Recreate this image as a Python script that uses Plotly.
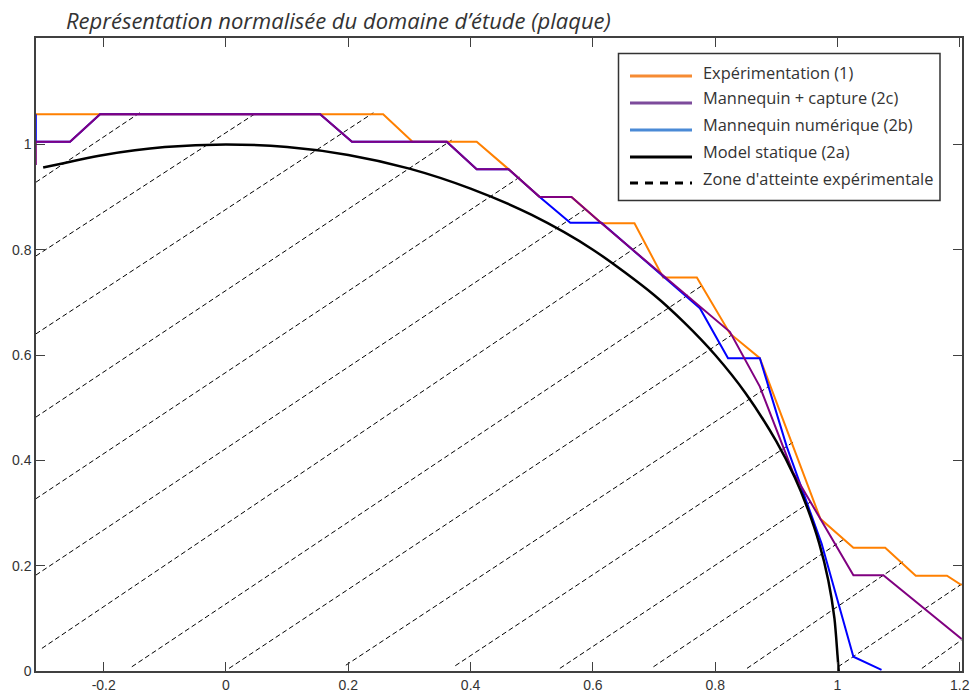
import plotly.graph_objects as go

# ---------------- data ----------------
# Expérimentation (1)
exp_x = [-0.311, 0.257, 0.305, 0.410, 0.462, 0.513, 0.565, 0.614, 0.668, 0.715,
         0.770, 0.824, 0.873, 0.972, 1.026, 1.078, 1.128, 1.179, 1.203]
exp_y = [1.057, 1.057, 1.005, 1.005, 0.953, 0.900, 0.900, 0.850, 0.850, 0.747,
         0.747, 0.641, 0.594, 0.289, 0.234, 0.234, 0.181, 0.181, 0.163]

# Mannequin + capture (2c)
cap_x = [-0.311, -0.311, -0.255, -0.206, 0.154, 0.206, 0.361, 0.410, 0.462, 0.513,
         0.565, 0.614, 0.824, 0.873, 0.927, 1.026, 1.075, 1.203]
cap_y = [0.961, 1.005, 1.005, 1.057, 1.057, 1.005, 1.005, 0.953, 0.953, 0.900,
         0.900, 0.850, 0.644, 0.540, 0.378, 0.182, 0.182, 0.061]

# Mannequin numérique (2b)
num_x = [-0.311, -0.311, -0.255, -0.206, 0.154, 0.206, 0.361, 0.410, 0.462, 0.513,
         0.563, 0.614, 0.775, 0.821, 0.873, 0.917, 0.974, 1.026, 1.072]
num_y = [1.057, 1.005, 1.005, 1.057, 1.057, 1.005, 1.005, 0.953, 0.953, 0.900,
         0.851, 0.851, 0.689, 0.594, 0.594, 0.426, 0.242, 0.027, 0.002]

# Model statique (2a)
stat_x = [-0.299, -0.2, -0.1, 0.0, 0.1, 0.2, 0.3, 0.4, 0.5, 0.6, 0.7, 0.75, 0.8,
          0.85, 0.9, 0.93, 0.95, 0.97, 0.985, 0.995, 1.0, 1.002]
stat_y = [0.956, 0.980, 0.995, 1.0, 0.995, 0.980, 0.954, 0.916, 0.866, 0.800, 0.714,
          0.661, 0.600, 0.527, 0.436, 0.368, 0.312, 0.243, 0.172, 0.100, 0.030, 0.0]

# Zone d'atteinte expérimentale (hatch segments: start -> end)
hatch_x0 = [-0.311, -0.311, -0.311, -0.311, -0.311, -0.311, -0.301, -0.154,
            0.005, 0.196, 0.375, 0.546, 0.699, 0.852, 1.001, 1.138]
hatch_y0 = [0.928, 0.788, 0.640, 0.482, 0.327, 0.182, 0.043, 0.008,
            0.005, 0.011, 0.010, 0.005, 0.008, 0.005, 0.008, 0.005]
hatch_x1 = [-0.141, 0.050, 0.241, 0.369, 0.483, 0.590, 0.680, 0.780,
            0.827, 0.887, 0.928, 0.961, 1.014, 1.108, 1.203, 1.203]
hatch_y1 = [1.060, 1.060, 1.060, 1.008, 0.940, 0.879, 0.812, 0.733,
            0.638, 0.540, 0.435, 0.325, 0.253, 0.208, 0.165, 0.059]

x_ticks = [-0.2, 0, 0.2, 0.4, 0.6, 0.8, 1.0, 1.2]
x_labels = ["-0.2", "0", "0.2", "0.4", "0.6", "0.8", "1", "1.2"]
y_ticks = [0, 0.2, 0.4, 0.6, 0.8, 1.0]
y_labels = ["0", "0.2", "0.4", "0.6", "0.8", "1"]

legend_names = ["Expérimentation (1)", "Mannequin + capture (2c)",
                "Mannequin numérique (2b)", "Model statique (2a)",
                "Zone d'atteinte expérimentale"]
legend_colors = ["#F68B33", "#7D4B9B", "#4A8AD6", "#000000", "#000000"]

title_text = "Représentation normalisée du domaine d’étude (plaque)"

# ---------------- figure ----------------
W, H = 972, 692
ML, MR, MT, MB = 36, 10, 38, 21
PW, PH = W - ML - MR, H - MT - MB


def px_x(px):
    return (px - ML) / PW


def px_y(py):
    return (H - MB - py) / PH


fig = go.Figure()

hx, hy = [], []
for a, b, c, d in zip(hatch_x0, hatch_y0, hatch_x1, hatch_y1):
    hx += [a, c, None]
    hy += [b, d, None]
fig.add_trace(go.Scatter(x=hx, y=hy, mode="lines", name=legend_names[4],
                         line=dict(color="black", width=1, dash="5px,3px"),
                         showlegend=False, hoverinfo="skip"))
fig.add_trace(go.Scatter(x=exp_x, y=exp_y, mode="lines", name=legend_names[0],
                         line=dict(color="#FF8000", width=2), showlegend=False))
fig.add_trace(go.Scatter(x=num_x, y=num_y, mode="lines", name=legend_names[2],
                         line=dict(color="#0000FF", width=2), showlegend=False))
fig.add_trace(go.Scatter(x=cap_x, y=cap_y, mode="lines", name=legend_names[1],
                         line=dict(color="#800080", width=2), showlegend=False))
fig.add_trace(go.Scatter(x=stat_x, y=stat_y, mode="lines", name=legend_names[3],
                         line=dict(color="#000000", width=2.5, shape="spline", smoothing=0.8),
                         showlegend=False))

axis_common = dict(ticks="inside", ticklen=9, tickwidth=1, tickcolor="#404040",
                   showline=True, linecolor="#404040", linewidth=1.5, mirror="ticks",
                   showgrid=False, zeroline=False, automargin=False,
                   tickfont=dict(family="Liberation Sans, Arial", size=14, color="#333333"))

fig.update_layout(
    width=W, height=H,
    margin=dict(l=ML, r=MR, t=MT, b=MB, pad=0, autoexpand=False),
    paper_bgcolor="white", plot_bgcolor="white",
    showlegend=False,
    xaxis=dict(range=[-0.3107, 1.2036], tickvals=x_ticks, ticktext=x_labels, **axis_common),
    yaxis=dict(range=[0, 1.202], tickvals=y_ticks, ticktext=y_labels, **axis_common),
)

# custom legend box
shapes = [dict(type="rect", xref="paper", yref="paper",
               x0=px_x(618.5), x1=px_x(940), y0=px_y(200.5), y1=px_y(53.5),
               line=dict(color="#333333", width=1.5), fillcolor="white", layer="above")]
line_ys = [76, 103, 130, 157, 183]
text_ys = [73, 98, 124, 151, 178]
annotations = [dict(xref="paper", yref="paper", x=px_x(64), y=px_y(20),
                    xanchor="left", yanchor="middle", showarrow=False,
                    text="<i>" + title_text + "</i>",
                    font=dict(family="Open Sans", size=22, color="#333333"))]
for i, name in enumerate(legend_names):
    shapes.append(dict(type="line", xref="paper", yref="paper",
                       x0=px_x(630), x1=px_x(692), y0=px_y(line_ys[i]), y1=px_y(line_ys[i]),
                       line=dict(color=legend_colors[i], width=3,
                                 dash="8px,7px" if i == 4 else "solid"),
                       layer="above"))
    annotations.append(dict(xref="paper", yref="paper", x=px_x(701), y=px_y(text_ys[i]),
                            xanchor="left", yanchor="middle", showarrow=False, text=name,
                            font=dict(family="Open Sans", size=16.4, color="#333333")))
fig.update_layout(shapes=shapes, annotations=annotations)

fig.write_html("out.html",
               config={"displayModeBar": False},
               post_script="document.body.style.margin='0px';"
                           "document.body.style.overflow='hidden';")
